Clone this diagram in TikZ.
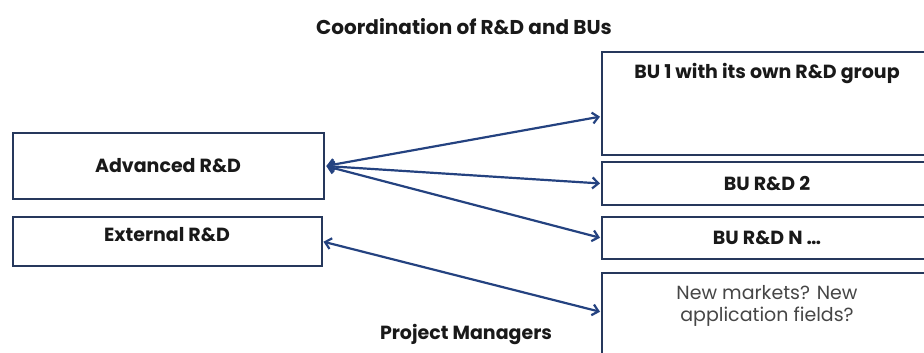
\documentclass[tikz,border=0pt]{standalone}
\usepackage{fontspec}
\setmainfont{Poppins}
\definecolor{rdnavy}{RGB}{38,56,92}
\definecolor{rdarrow}{RGB}{36,66,128}
\definecolor{rdtext}{RGB}{25,25,25}
\definecolor{rdgray}{RGB}{70,70,70}
\usetikzlibrary{arrows.meta,positioning}

\begin{document}
\begin{tikzpicture}[
  x=1pt, y=-1pt,
  box/.style={draw=rdnavy, line width=2pt, fill=white, inner sep=3pt, align=center, font=\bfseries\fontsize{19}{22}\selectfont, text=rdtext},
  arr/.style={{Straight Barb[length=6pt,width=11pt]}-{Straight Barb[length=6pt,width=11pt]}, line width=2.2pt, rdarrow, shorten <=1pt, shorten >=1pt}
]
\useasboundingbox (0,0) rectangle (924,353);

% Title
\node[font=\bfseries\fontsize{20}{24}\selectfont, text=rdtext] (title) at (464,27) {Coordination of R\&D and BUs};

% Left column
\node[box, minimum width=311pt, minimum height=66pt] (adv) at (168,166) {Advanced R\&D};
\node[box, minimum width=309pt, minimum height=49pt, text depth=14pt] (ext) at (167,241.5) {External R\&D};

% Right column (boxes run off the right edge)
\node[box, minimum width=330pt, minimum height=103pt] (bu1) at (767,103.5) {};
\node[anchor=north, font=\bfseries\fontsize{19}{22}\selectfont, text=rdtext] (bu1txt) at ([yshift=-9pt]bu1.north) {BU 1 with its own R\&D group};
\node[box, minimum width=330pt, minimum height=43pt] (bu2) at (767,183.5) {BU R\&D 2};
\node[box, minimum width=330pt, minimum height=42pt] (bun) at (767,238) {BU R\&D N \dots};
\node[box, minimum width=330pt, minimum height=82pt] (nm) at (767,314) {};
\node[anchor=north, align=center, font=\fontsize{19}{22}\selectfont, text=rdgray] (nmtxt) at ([yshift=-10pt]nm.north) {New markets? New\\application fields?};

% Bottom label
\node[font=\bfseries\fontsize{19}{22}\selectfont, text=rdtext] (pm) at (466,335) {Project Managers};

% Links
\draw[arr] ([xshift=1pt]adv.east) -- ([yshift=-13pt]bu1.west);
\draw[arr] ([xshift=1pt]adv.east) -- (bu2.west);
\draw[arr] ([xshift=1pt]adv.east) -- (bun.west);
\draw[arr] (ext.east) -- ([yshift=2pt]nm.west);
\end{tikzpicture}
\end{document}
